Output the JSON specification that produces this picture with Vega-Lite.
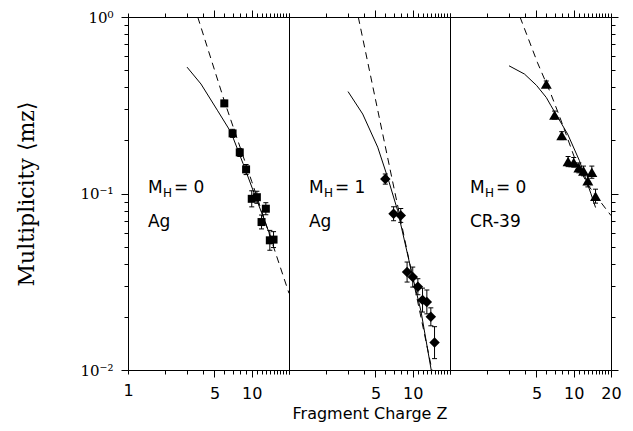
{
  "$schema": "https://vega.github.io/schema/vega-lite/v6.json",
  "background": "white",
  "padding": {"left": 15, "top": 9, "right": 10, "bottom": 5},
  "spacing": 0,
  "bounds": "flush",
  "config": {
    "view": {"stroke": "black", "strokeWidth": 1},
    "axis": {"domain": false, "grid": false, "tickColor": "black", "labelColor": "black", "titleColor": "black", "tickWidth": 1}
  },
  "datasets": {
    "pts": [
      {"p": 1, "Z": 6, "m": 0.324, "lo": 0.311, "hi": 0.337},
      {"p": 1, "Z": 7, "m": 0.219, "lo": 0.208, "hi": 0.231},
      {"p": 1, "Z": 8, "m": 0.171, "lo": 0.162, "hi": 0.18},
      {"p": 1, "Z": 9, "m": 0.137, "lo": 0.128, "hi": 0.146},
      {"p": 1, "Z": 10, "m": 0.0933, "lo": 0.084, "hi": 0.1036},
      {"p": 1, "Z": 11, "m": 0.0953, "lo": 0.088, "hi": 0.103},
      {"p": 1, "Z": 12, "m": 0.0689, "lo": 0.063, "hi": 0.0755},
      {"p": 1, "Z": 13, "m": 0.082, "lo": 0.0758, "hi": 0.0887},
      {"p": 1, "Z": 14, "m": 0.0543, "lo": 0.0477, "hi": 0.0618},
      {"p": 1, "Z": 15, "m": 0.0548, "lo": 0.0494, "hi": 0.0608},
      {"p": 2, "Z": 6, "m": 0.121, "lo": 0.113, "hi": 0.129},
      {"p": 2, "Z": 7, "m": 0.0768, "lo": 0.0701, "hi": 0.0841},
      {"p": 2, "Z": 8, "m": 0.0751, "lo": 0.0686, "hi": 0.0822},
      {"p": 2, "Z": 9, "m": 0.0359, "lo": 0.0315, "hi": 0.0409},
      {"p": 2, "Z": 10, "m": 0.0336, "lo": 0.0295, "hi": 0.0383},
      {"p": 2, "Z": 11, "m": 0.0296, "lo": 0.0267, "hi": 0.0329},
      {"p": 2, "Z": 12, "m": 0.0249, "lo": 0.0213, "hi": 0.0291},
      {"p": 2, "Z": 13, "m": 0.0243, "lo": 0.0208, "hi": 0.0284},
      {"p": 2, "Z": 14, "m": 0.02, "lo": 0.0178, "hi": 0.0225},
      {"p": 2, "Z": 15, "m": 0.0143, "lo": 0.0116, "hi": 0.0176},
      {"p": 3, "Z": 6, "m": 0.417, "lo": 0.401, "hi": 0.434},
      {"p": 3, "Z": 7, "m": 0.278, "lo": 0.264, "hi": 0.293},
      {"p": 3, "Z": 8, "m": 0.213, "lo": 0.202, "hi": 0.224},
      {"p": 3, "Z": 9, "m": 0.152, "lo": 0.142, "hi": 0.162},
      {"p": 3, "Z": 10, "m": 0.15, "lo": 0.141, "hi": 0.16},
      {"p": 3, "Z": 11, "m": 0.14, "lo": 0.131, "hi": 0.149},
      {"p": 3, "Z": 12, "m": 0.134, "lo": 0.126, "hi": 0.143},
      {"p": 3, "Z": 13, "m": 0.118, "lo": 0.109, "hi": 0.128},
      {"p": 3, "Z": 14, "m": 0.132, "lo": 0.122, "hi": 0.143},
      {"p": 3, "Z": 15, "m": 0.0966, "lo": 0.0882, "hi": 0.1058}
    ],
    "curves": [
      {"p": 1, "k": "solid", "Z": 3, "m": 0.52},
      {"p": 1, "k": "solid", "Z": 3.89, "m": 0.417},
      {"p": 1, "k": "solid", "Z": 5.31, "m": 0.294},
      {"p": 1, "k": "solid", "Z": 6.8, "m": 0.222},
      {"p": 1, "k": "solid", "Z": 8.5, "m": 0.148},
      {"p": 1, "k": "solid", "Z": 10.5, "m": 0.0996},
      {"p": 1, "k": "solid", "Z": 12, "m": 0.078},
      {"p": 1, "k": "solid", "Z": 13.9, "m": 0.0592},
      {"p": 1, "k": "solid", "Z": 15, "m": 0.0512},
      {"p": 1, "k": "dashed", "Z": 3.66, "m": 1.0},
      {"p": 1, "k": "dashed", "Z": 6, "m": 0.335},
      {"p": 1, "k": "dashed", "Z": 10, "m": 0.117},
      {"p": 1, "k": "dashed", "Z": 20, "m": 0.0272},
      {"p": 2, "k": "solid", "Z": 3, "m": 0.378},
      {"p": 2, "k": "solid", "Z": 3.94, "m": 0.282},
      {"p": 2, "k": "solid", "Z": 5.21, "m": 0.183},
      {"p": 2, "k": "solid", "Z": 6.3, "m": 0.122},
      {"p": 2, "k": "solid", "Z": 7.55, "m": 0.08},
      {"p": 2, "k": "solid", "Z": 10, "m": 0.0336},
      {"p": 2, "k": "solid", "Z": 11.66, "m": 0.0215},
      {"p": 2, "k": "solid", "Z": 14.1, "m": 0.01},
      {"p": 2, "k": "dashed", "Z": 3.63, "m": 1.0},
      {"p": 2, "k": "dashed", "Z": 14.3, "m": 0.01},
      {"p": 3, "k": "solid", "Z": 3, "m": 0.529},
      {"p": 3, "k": "solid", "Z": 4, "m": 0.475},
      {"p": 3, "k": "solid", "Z": 5, "m": 0.41},
      {"p": 3, "k": "solid", "Z": 6, "m": 0.35},
      {"p": 3, "k": "solid", "Z": 6.55, "m": 0.314},
      {"p": 3, "k": "solid", "Z": 8.93, "m": 0.217},
      {"p": 3, "k": "solid", "Z": 11.09, "m": 0.154},
      {"p": 3, "k": "solid", "Z": 13.78, "m": 0.0996},
      {"p": 3, "k": "solid", "Z": 15, "m": 0.0833},
      {"p": 3, "k": "dashed", "Z": 3.68, "m": 1.0},
      {"p": 3, "k": "dashed", "Z": 5.1, "m": 0.55},
      {"p": 3, "k": "dashed", "Z": 6.5, "m": 0.37},
      {"p": 3, "k": "dashed", "Z": 7.64, "m": 0.276},
      {"p": 3, "k": "dashed", "Z": 8.66, "m": 0.217},
      {"p": 3, "k": "dashed", "Z": 10.4, "m": 0.152},
      {"p": 3, "k": "dashed", "Z": 13, "m": 0.112},
      {"p": 3, "k": "dashed", "Z": 16, "m": 0.092},
      {"p": 3, "k": "dashed", "Z": 20, "m": 0.075}
    ],
    "ann": [
      {"p": 1, "s": "M", "t": "M", "Z": 1.45, "m": 0.107},
      {"p": 1, "s": "H", "t": "H", "Z": 1.45, "m": 0.107},
      {"p": 1, "s": "eq", "t": "= 0", "Z": 1.45, "m": 0.107},
      {"p": 1, "s": "L", "t": "Ag", "Z": 1.45, "m": 0.0686},
      {"p": 2, "s": "M", "t": "M", "Z": 1.45, "m": 0.107},
      {"p": 2, "s": "H", "t": "H", "Z": 1.45, "m": 0.107},
      {"p": 2, "s": "eq", "t": "= 1", "Z": 1.45, "m": 0.107},
      {"p": 2, "s": "L", "t": "Ag", "Z": 1.45, "m": 0.0686},
      {"p": 3, "s": "M", "t": "M", "Z": 1.45, "m": 0.107},
      {"p": 3, "s": "H", "t": "H", "Z": 1.45, "m": 0.107},
      {"p": 3, "s": "eq", "t": "= 0", "Z": 1.45, "m": 0.107},
      {"p": 3, "s": "L", "t": "CR-39", "Z": 1.45, "m": 0.0686}
    ]
  },
  "hconcat": [
    {
      "width": 161, "height": 353,
      "resolve": {"axis": {"x": "independent", "y": "independent"}},
      "layer": [
        {"data": {"name": "curves"}, "transform": [{"filter": "datum.p==1 && datum.k=='dashed'"}],
         "mark": {"type": "line", "color": "black", "strokeWidth": 1, "strokeDash": [7, 5], "clip": true},
         "encoding": {
           "x": {"field": "Z", "type": "quantitative", "scale": {"type": "log", "domain": [1, 20], "nice": false}, "axis": {"orient": "top", "values": [1,2,3,4,5,6,7,8,9,10,11,12,13,14,15,16,17,18,19,20], "labels": false, "title": null, "tickSize": {"condition": {"test": "datum.value==5||datum.value==10", "value": 7}, "value": 4}}},
           "y": {"field": "m", "type": "quantitative", "scale": {"type": "log", "domain": [0.01, 1], "nice": false}, "axis": {"orient": "left", "values": [0.01,0.02,0.03,0.04,0.05,0.06,0.07,0.08,0.09,0.1,0.2,0.3,0.4,0.5,0.6,0.7,0.8,0.9,1], "labelExpr": "datum.value > 0.99 ? '10⁰' : (abs(datum.value-0.1) < 1e-9 ? '10⁻¹' : (abs(datum.value-0.01) < 1e-9 ? '10⁻²' : ''))", "labelOverlap": false, "labelFlush": false, "labelFont": "DejaVu Serif", "labelFontSize": 15, "labelPadding": 8, "tickSize": {"condition": {"test": "datum.value > 0.99 || abs(datum.value-0.1) < 1e-9 || abs(datum.value-0.01) < 1e-9", "value": 7}, "value": 4}, "title": "Multiplicity   ⟨mz⟩", "titleFont": "DejaVu Serif", "titleFontSize": 22, "titleFontWeight": "normal", "titlePadding": 41}},
           "order": {"field": "Z"}
         }},
        {"data": {"name": "curves"}, "transform": [{"filter": "datum.p==1 && datum.k=='solid'"}],
         "mark": {"type": "line", "color": "black", "strokeWidth": 1, "clip": true},
         "encoding": {
           "x": {"field": "Z", "type": "quantitative", "axis": {"orient": "bottom", "values": [1,2,3,4,5,6,7,8,9,10,11,12,13,14,15,16,17,18,19,20], "labelExpr": "datum.value==1||datum.value==5||datum.value==10 ? ''+datum.value : ''", "labelOverlap": false, "labelFlush": false, "labelFont": "DejaVu Sans", "labelFontSize": 16, "labelPadding": 8, "title": null, "tickSize": {"condition": {"test": "datum.value==5||datum.value==10", "value": 7}, "value": 4}}},
           "y": {"field": "m", "type": "quantitative", "axis": null},
           "order": {"field": "Z"}
         }},
        {"data": {"name": "pts"}, "transform": [{"filter": "datum.p==1"}],
         "mark": {"type": "rule", "color": "black", "strokeWidth": 1},
         "encoding": {"x": {"field": "Z", "type": "quantitative", "axis": null}, "y": {"field": "lo", "type": "quantitative", "axis": null}, "y2": {"field": "hi"}}},
        {"data": {"name": "pts"}, "transform": [{"filter": "datum.p==1"}],
         "mark": {"type": "tick", "orient": "horizontal", "size": 5, "thickness": 1, "color": "black", "opacity": 1},
         "encoding": {"x": {"field": "Z", "type": "quantitative", "axis": null}, "y": {"field": "lo", "type": "quantitative", "axis": null}}},
        {"data": {"name": "pts"}, "transform": [{"filter": "datum.p==1"}],
         "mark": {"type": "tick", "orient": "horizontal", "size": 5, "thickness": 1, "color": "black", "opacity": 1},
         "encoding": {"x": {"field": "Z", "type": "quantitative", "axis": null}, "y": {"field": "hi", "type": "quantitative", "axis": null}}},
        {"data": {"name": "pts"}, "transform": [{"filter": "datum.p==1"}],
         "mark": {"type": "point", "shape": "square", "filled": true, "color": "black", "opacity": 1, "size": 64},
         "encoding": {"x": {"field": "Z", "type": "quantitative", "axis": null}, "y": {"field": "m", "type": "quantitative", "axis": null}}},
        {"data": {"name": "ann"}, "transform": [{"filter": "datum.p==1 && datum.s=='M'"}],
         "mark": {"type": "text", "align": "left", "baseline": "middle", "font": "DejaVu Sans", "fontSize": 17, "color": "black"},
         "encoding": {"x": {"field": "Z", "type": "quantitative", "axis": null}, "y": {"field": "m", "type": "quantitative", "axis": null}, "text": {"field": "t"}}},
        {"data": {"name": "ann"}, "transform": [{"filter": "datum.p==1 && datum.s=='H'"}],
         "mark": {"type": "text", "align": "left", "baseline": "middle", "font": "DejaVu Sans", "fontSize": 12, "dx": 15, "dy": 5, "color": "black"},
         "encoding": {"x": {"field": "Z", "type": "quantitative", "axis": null}, "y": {"field": "m", "type": "quantitative", "axis": null}, "text": {"field": "t"}}},
        {"data": {"name": "ann"}, "transform": [{"filter": "datum.p==1 && datum.s=='eq'"}],
         "mark": {"type": "text", "align": "left", "baseline": "middle", "font": "DejaVu Sans", "fontSize": 17, "dx": 26, "color": "black"},
         "encoding": {"x": {"field": "Z", "type": "quantitative", "axis": null}, "y": {"field": "m", "type": "quantitative", "axis": null}, "text": {"field": "t"}}},
        {"data": {"name": "ann"}, "transform": [{"filter": "datum.p==1 && datum.s=='L'"}],
         "mark": {"type": "text", "align": "left", "baseline": "middle", "font": "DejaVu Sans", "fontSize": 17, "color": "black"},
         "encoding": {"x": {"field": "Z", "type": "quantitative", "axis": null}, "y": {"field": "m", "type": "quantitative", "axis": null}, "text": {"field": "t"}}}
      ]
    },
    {
      "width": 161, "height": 353,
      "resolve": {"axis": {"x": "independent", "y": "independent"}},
      "layer": [
        {"data": {"name": "curves"}, "transform": [{"filter": "datum.p==2 && datum.k=='dashed'"}],
         "mark": {"type": "line", "color": "black", "strokeWidth": 1, "strokeDash": [7, 5], "clip": true},
         "encoding": {
           "x": {"field": "Z", "type": "quantitative", "scale": {"type": "log", "domain": [1, 20], "nice": false}, "axis": {"orient": "top", "values": [1,2,3,4,5,6,7,8,9,10,11,12,13,14,15,16,17,18,19,20], "labels": false, "title": null, "tickSize": {"condition": {"test": "datum.value==5||datum.value==10", "value": 7}, "value": 4}}},
           "y": {"field": "m", "type": "quantitative", "scale": {"type": "log", "domain": [0.01, 1], "nice": false}, "axis": null},
           "order": {"field": "Z"}
         }},
        {"data": {"name": "curves"}, "transform": [{"filter": "datum.p==2 && datum.k=='solid'"}],
         "mark": {"type": "line", "color": "black", "strokeWidth": 1, "clip": true},
         "encoding": {
           "x": {"field": "Z", "type": "quantitative", "axis": {"orient": "bottom", "values": [1,2,3,4,5,6,7,8,9,10,11,12,13,14,15,16,17,18,19,20], "labelExpr": "datum.value==5||datum.value==10 ? ''+datum.value : ''", "labelOverlap": false, "labelFlush": false, "labelFont": "DejaVu Sans", "labelFontSize": 16, "labelPadding": 8, "title": "Fragment Charge Z", "titleFont": "DejaVu Sans", "titleFontSize": 16, "titleFontWeight": "normal", "titlePadding": 4, "tickSize": {"condition": {"test": "datum.value==5||datum.value==10", "value": 7}, "value": 4}}},
           "y": {"field": "m", "type": "quantitative", "axis": null},
           "order": {"field": "Z"}
         }},
        {"data": {"name": "pts"}, "transform": [{"filter": "datum.p==2"}],
         "mark": {"type": "rule", "color": "black", "strokeWidth": 1},
         "encoding": {"x": {"field": "Z", "type": "quantitative", "axis": null}, "y": {"field": "lo", "type": "quantitative", "axis": null}, "y2": {"field": "hi"}}},
        {"data": {"name": "pts"}, "transform": [{"filter": "datum.p==2"}],
         "mark": {"type": "tick", "orient": "horizontal", "size": 5, "thickness": 1, "color": "black", "opacity": 1},
         "encoding": {"x": {"field": "Z", "type": "quantitative", "axis": null}, "y": {"field": "lo", "type": "quantitative", "axis": null}}},
        {"data": {"name": "pts"}, "transform": [{"filter": "datum.p==2"}],
         "mark": {"type": "tick", "orient": "horizontal", "size": 5, "thickness": 1, "color": "black", "opacity": 1},
         "encoding": {"x": {"field": "Z", "type": "quantitative", "axis": null}, "y": {"field": "hi", "type": "quantitative", "axis": null}}},
        {"data": {"name": "pts"}, "transform": [{"filter": "datum.p==2"}],
         "mark": {"type": "point", "shape": "diamond", "filled": true, "color": "black", "opacity": 1, "size": 110},
         "encoding": {"x": {"field": "Z", "type": "quantitative", "axis": null}, "y": {"field": "m", "type": "quantitative", "axis": null}}},
        {"data": {"name": "ann"}, "transform": [{"filter": "datum.p==2 && datum.s=='M'"}],
         "mark": {"type": "text", "align": "left", "baseline": "middle", "font": "DejaVu Sans", "fontSize": 17, "color": "black"},
         "encoding": {"x": {"field": "Z", "type": "quantitative", "axis": null}, "y": {"field": "m", "type": "quantitative", "axis": null}, "text": {"field": "t"}}},
        {"data": {"name": "ann"}, "transform": [{"filter": "datum.p==2 && datum.s=='H'"}],
         "mark": {"type": "text", "align": "left", "baseline": "middle", "font": "DejaVu Sans", "fontSize": 12, "dx": 15, "dy": 5, "color": "black"},
         "encoding": {"x": {"field": "Z", "type": "quantitative", "axis": null}, "y": {"field": "m", "type": "quantitative", "axis": null}, "text": {"field": "t"}}},
        {"data": {"name": "ann"}, "transform": [{"filter": "datum.p==2 && datum.s=='eq'"}],
         "mark": {"type": "text", "align": "left", "baseline": "middle", "font": "DejaVu Sans", "fontSize": 17, "dx": 26, "color": "black"},
         "encoding": {"x": {"field": "Z", "type": "quantitative", "axis": null}, "y": {"field": "m", "type": "quantitative", "axis": null}, "text": {"field": "t"}}},
        {"data": {"name": "ann"}, "transform": [{"filter": "datum.p==2 && datum.s=='L'"}],
         "mark": {"type": "text", "align": "left", "baseline": "middle", "font": "DejaVu Sans", "fontSize": 17, "color": "black"},
         "encoding": {"x": {"field": "Z", "type": "quantitative", "axis": null}, "y": {"field": "m", "type": "quantitative", "axis": null}, "text": {"field": "t"}}}
      ]
    },
    {
      "width": 161, "height": 353,
      "resolve": {"axis": {"x": "independent", "y": "independent"}},
      "layer": [
        {"data": {"name": "curves"}, "transform": [{"filter": "datum.p==3 && datum.k=='dashed'"}],
         "mark": {"type": "line", "color": "black", "strokeWidth": 1, "strokeDash": [7, 5], "clip": true},
         "encoding": {
           "x": {"field": "Z", "type": "quantitative", "scale": {"type": "log", "domain": [1, 20], "nice": false}, "axis": {"orient": "top", "values": [1,2,3,4,5,6,7,8,9,10,11,12,13,14,15,16,17,18,19,20], "labels": false, "title": null, "tickSize": {"condition": {"test": "datum.value==5||datum.value==10", "value": 7}, "value": 4}}},
           "y": {"field": "m", "type": "quantitative", "scale": {"type": "log", "domain": [0.01, 1], "nice": false}, "axis": {"orient": "right", "values": [0.01,0.02,0.03,0.04,0.05,0.06,0.07,0.08,0.09,0.1,0.2,0.3,0.4,0.5,0.6,0.7,0.8,0.9,1], "labels": false, "title": null, "tickSize": {"condition": {"test": "datum.value > 0.99 || abs(datum.value-0.1) < 1e-9 || abs(datum.value-0.01) < 1e-9", "value": 7}, "value": 4}}},
           "order": {"field": "Z"}
         }},
        {"data": {"name": "curves"}, "transform": [{"filter": "datum.p==3 && datum.k=='solid'"}],
         "mark": {"type": "line", "color": "black", "strokeWidth": 1, "clip": true},
         "encoding": {
           "x": {"field": "Z", "type": "quantitative", "axis": {"orient": "bottom", "values": [1,2,3,4,5,6,7,8,9,10,11,12,13,14,15,16,17,18,19,20], "labelExpr": "datum.value==5||datum.value==10||datum.value==20 ? ''+datum.value : ''", "labelOverlap": false, "labelFlush": false, "labelFont": "DejaVu Sans", "labelFontSize": 16, "labelPadding": 8, "title": null, "tickSize": {"condition": {"test": "datum.value==5||datum.value==10||datum.value==20", "value": 7}, "value": 4}}},
           "y": {"field": "m", "type": "quantitative", "axis": null},
           "order": {"field": "Z"}
         }},
        {"data": {"name": "pts"}, "transform": [{"filter": "datum.p==3"}],
         "mark": {"type": "rule", "color": "black", "strokeWidth": 1},
         "encoding": {"x": {"field": "Z", "type": "quantitative", "axis": null}, "y": {"field": "lo", "type": "quantitative", "axis": null}, "y2": {"field": "hi"}}},
        {"data": {"name": "pts"}, "transform": [{"filter": "datum.p==3"}],
         "mark": {"type": "tick", "orient": "horizontal", "size": 5, "thickness": 1, "color": "black", "opacity": 1},
         "encoding": {"x": {"field": "Z", "type": "quantitative", "axis": null}, "y": {"field": "lo", "type": "quantitative", "axis": null}}},
        {"data": {"name": "pts"}, "transform": [{"filter": "datum.p==3"}],
         "mark": {"type": "tick", "orient": "horizontal", "size": 5, "thickness": 1, "color": "black", "opacity": 1},
         "encoding": {"x": {"field": "Z", "type": "quantitative", "axis": null}, "y": {"field": "hi", "type": "quantitative", "axis": null}}},
        {"data": {"name": "pts"}, "transform": [{"filter": "datum.p==3"}],
         "mark": {"type": "point", "shape": "triangle-up", "filled": true, "color": "black", "opacity": 1, "size": 120},
         "encoding": {"x": {"field": "Z", "type": "quantitative", "axis": null}, "y": {"field": "m", "type": "quantitative", "axis": null}}},
        {"data": {"name": "ann"}, "transform": [{"filter": "datum.p==3 && datum.s=='M'"}],
         "mark": {"type": "text", "align": "left", "baseline": "middle", "font": "DejaVu Sans", "fontSize": 17, "color": "black"},
         "encoding": {"x": {"field": "Z", "type": "quantitative", "axis": null}, "y": {"field": "m", "type": "quantitative", "axis": null}, "text": {"field": "t"}}},
        {"data": {"name": "ann"}, "transform": [{"filter": "datum.p==3 && datum.s=='H'"}],
         "mark": {"type": "text", "align": "left", "baseline": "middle", "font": "DejaVu Sans", "fontSize": 12, "dx": 15, "dy": 5, "color": "black"},
         "encoding": {"x": {"field": "Z", "type": "quantitative", "axis": null}, "y": {"field": "m", "type": "quantitative", "axis": null}, "text": {"field": "t"}}},
        {"data": {"name": "ann"}, "transform": [{"filter": "datum.p==3 && datum.s=='eq'"}],
         "mark": {"type": "text", "align": "left", "baseline": "middle", "font": "DejaVu Sans", "fontSize": 17, "dx": 26, "color": "black"},
         "encoding": {"x": {"field": "Z", "type": "quantitative", "axis": null}, "y": {"field": "m", "type": "quantitative", "axis": null}, "text": {"field": "t"}}},
        {"data": {"name": "ann"}, "transform": [{"filter": "datum.p==3 && datum.s=='L'"}],
         "mark": {"type": "text", "align": "left", "baseline": "middle", "font": "DejaVu Sans", "fontSize": 17, "color": "black"},
         "encoding": {"x": {"field": "Z", "type": "quantitative", "axis": null}, "y": {"field": "m", "type": "quantitative", "axis": null}, "text": {"field": "t"}}}
      ]
    }
  ]
}
